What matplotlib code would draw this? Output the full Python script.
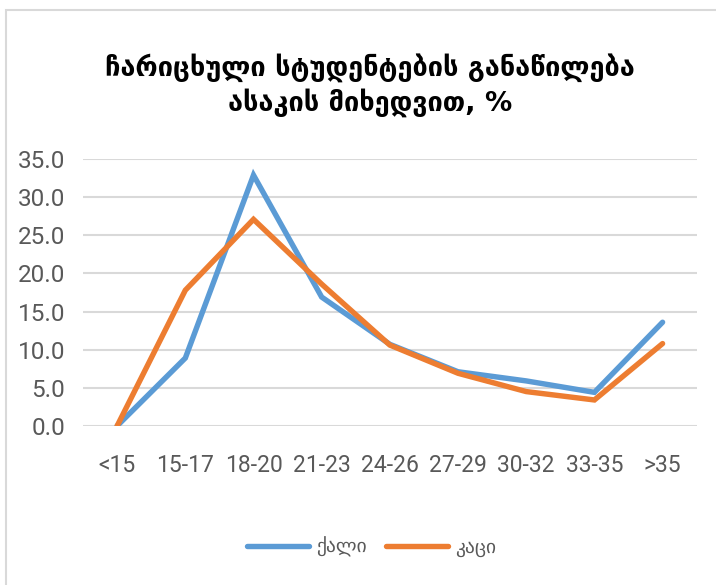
import numpy as np
import matplotlib
matplotlib.use("Agg")
import matplotlib.pyplot as plt
from matplotlib.patches import Rectangle

# -------------------------------
# Data
# -------------------------------
categories = ["<15", "15-17", "18-20", "21-23", "24-26", "27-29", "30-32", "33-35", ">35"]
female = [0.0, 8.9, 32.9, 16.9, 10.7, 7.1, 5.9, 4.4, 13.6]   # ქალი
male = [0.0, 17.8, 27.1, 18.6, 10.6, 6.9, 4.5, 3.4, 10.8]    # კაცი
series_names = ["ქალი", "კაცი"]
title = "ჩარიცხული სტუდენტების განაწილება\nასაკის მიხედვით, %"
y_ticks = [0, 5, 10, 15, 20, 25, 30, 35]

BLUE = "#5B9BD5"
ORANGE = "#ED7D31"
GRID = "#D9D9D9"
TEXT = "#595959"

plt.rcParams["font.family"] = ["DejaVu Sans"]

fig = plt.figure(figsize=(7.16, 5.85), dpi=100)
ax = fig.add_axes([0.116, 0.272, 0.857, 0.456])

x = np.arange(len(categories))
ax.plot(x, female, color=BLUE, lw=3.9, solid_capstyle="round", solid_joinstyle="miter", label=series_names[0], zorder=3)
ax.plot(x, male, color=ORANGE, lw=3.9, solid_capstyle="round", solid_joinstyle="miter", label=series_names[1], zorder=4)

ax.set_xlim(-0.5, len(categories) - 0.5)
ax.set_ylim(0, 35)
ax.set_yticks(y_ticks)
ax.set_yticklabels([f"{v:.1f}" for v in y_ticks], fontsize=17.5, color=TEXT, family="Roboto")
ax.set_xticks(x)
ax.set_xticklabels(categories, fontsize=16.5, color=TEXT, family="Roboto")
ax.tick_params(axis="both", length=0)
ax.tick_params(axis="x", pad=20)
ax.tick_params(axis="y", pad=13)
ax.grid(axis="y", color=GRID, lw=1.5)
ax.set_axisbelow(True)
for s in ax.spines.values():
    s.set_visible(False)

fig.text(0.517, 0.855, title, ha="center", va="center", fontsize=19.5,
         fontweight="bold", color="black", linespacing=1.3)

leg = fig.legend(loc="center", bbox_to_anchor=(0.519, 0.065), ncol=2, frameon=False,
                 fontsize=14, handlelength=3.2, columnspacing=1.0, handletextpad=0.35)
for t in leg.get_texts():
    t.set_color(TEXT)
for h in leg.get_lines():
    h.set_linewidth(3.9)

# light chart-area border
fig.patches.append(Rectangle((0.009, -0.02), 1.2, 1.003, transform=fig.transFigure,
                             fill=False, edgecolor="#D9D9D9", lw=1.5))

fig.savefig("out.png", dpi=100, facecolor="white")
